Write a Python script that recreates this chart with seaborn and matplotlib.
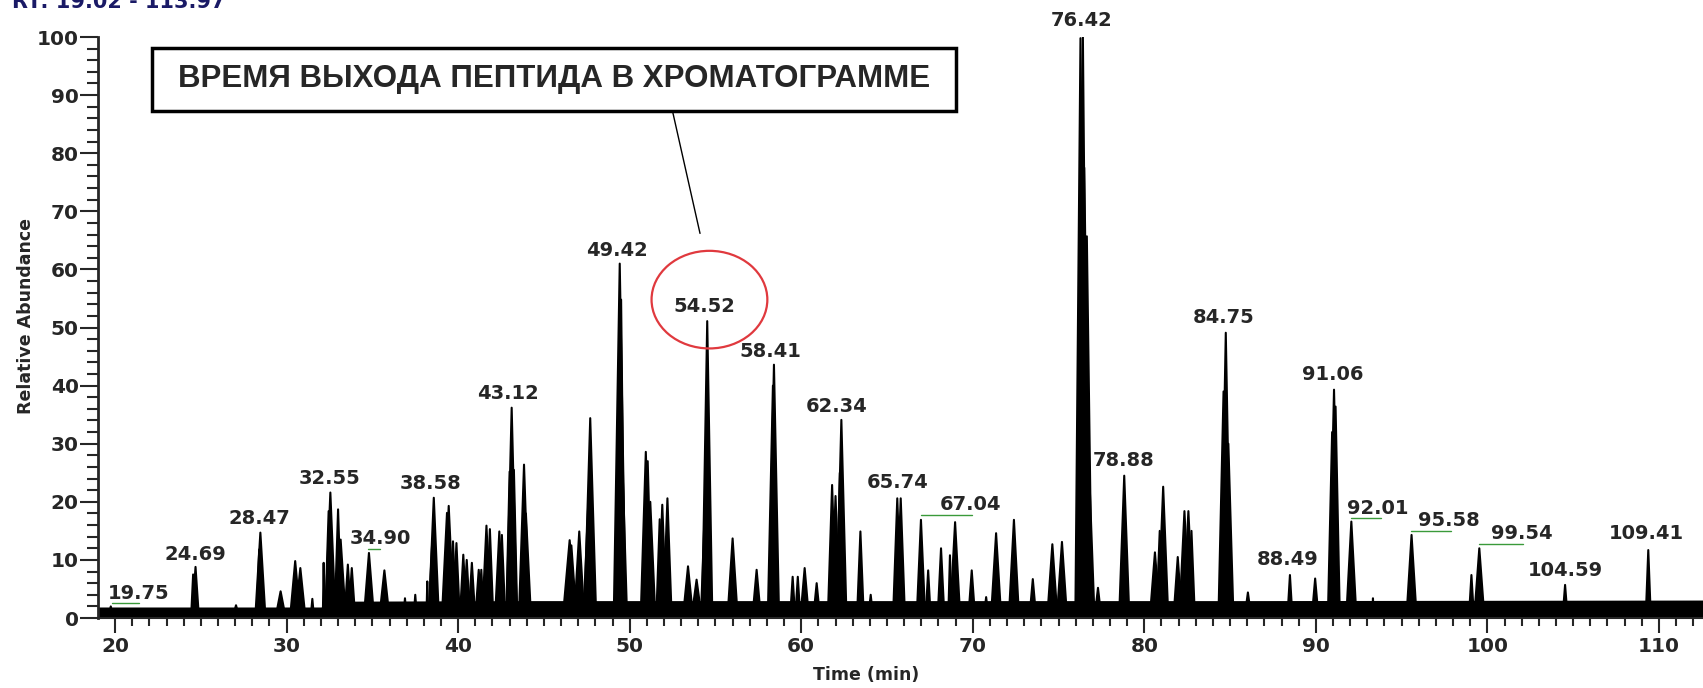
import numpy as np
import pandas as pd
import matplotlib
matplotlib.use("Agg")
import matplotlib.pyplot as plt
from matplotlib.patches import Ellipse, Rectangle
from matplotlib.ticker import MultipleLocator
import seaborn as sns

# peaks: apex time (min), apex height (%), half width at base (min)
peak_rt = [19.75, 24.55, 24.69, 27.05, 28.40, 28.47, 29.65, 30.50, 30.80, 31.50,
           32.16, 32.45, 32.55, 33.00, 33.15, 33.57, 33.80, 34.80, 35.70, 36.90,
           37.50, 38.20, 38.48, 38.58, 39.35, 39.45, 39.70, 39.90, 40.30, 40.50,
           40.80, 41.20, 41.35, 41.65, 41.85, 42.40, 42.55, 43.00, 43.12, 43.25,
           43.84, 43.95, 46.50, 46.60, 47.06, 47.60, 47.70, 49.42, 49.50, 49.55,
           50.94, 51.05, 51.20, 51.75, 51.90, 52.20, 53.40, 53.90, 54.45, 54.52,
           56.00, 57.40, 58.35, 58.41, 59.50, 59.80, 60.20, 60.90, 61.80, 62.00,
           62.25, 62.34, 63.45, 64.05, 65.60, 65.80, 66.98, 67.40, 68.15, 68.67,
           68.97, 69.94, 70.78, 71.36, 72.40, 73.50, 74.64, 75.20, 76.14, 76.28,
           76.42, 76.50, 76.65, 76.80, 77.30, 78.83, 80.62, 80.90, 81.10, 81.95,
           82.34, 82.57, 82.75, 84.62, 84.75, 84.90, 86.04, 88.49, 89.96, 90.95,
           91.06, 91.15, 92.07, 93.33, 95.58, 99.07, 99.53, 104.53, 109.38]
peak_height = [2.0, 7.5, 8.8, 2.2, 11.8, 14.7, 4.6, 9.8, 8.6, 3.3,
               9.5, 18.4, 21.6, 18.7, 13.5, 9.2, 8.6, 11.2, 8.2, 3.4,
               4.0, 6.3, 12.6, 20.7, 18.1, 19.3, 13.2, 12.9, 10.9, 10.0,
               9.5, 8.3, 8.3, 15.9, 15.3, 14.9, 14.3, 25.2, 36.2, 25.5,
               26.4, 18.0, 13.4, 12.5, 14.9, 20.8, 34.4, 61.0, 54.8, 29.0,
               28.6, 27.0, 20.0, 17.0, 19.5, 20.6, 8.9, 6.6, 24.7, 51.1,
               13.7, 8.3, 40.0, 43.6, 7.1, 7.1, 8.6, 6.0, 22.9, 21.0,
               25.0, 34.1, 14.9, 4.0, 20.6, 20.6, 16.9, 8.2, 12.0, 10.8,
               16.5, 8.2, 3.6, 14.6, 16.9, 6.7, 12.7, 13.1, 24.8, 99.8,
               100.0, 77.5, 65.7, 24.0, 5.2, 24.5, 11.3, 15.0, 22.6, 10.5,
               18.4, 18.4, 15.0, 39.0, 49.1, 30.0, 4.4, 7.4, 6.8, 32.0,
               39.3, 36.4, 16.6, 3.4, 14.3, 7.4, 12.0, 5.7, 11.7]
peak_halfwidth = [0.15, 0.12, 0.20, 0.20, 0.15, 0.30, 0.30, 0.30, 0.30, 0.10,
                  0.05, 0.20, 0.30, 0.20, 0.30, 0.20, 0.20, 0.30, 0.30, 0.10,
                  0.10, 0.05, 0.20, 0.30, 0.30, 0.30, 0.20, 0.20, 0.20, 0.20,
                  0.20, 0.20, 0.15, 0.25, 0.20, 0.25, 0.20, 0.20, 0.30, 0.20,
                  0.30, 0.30, 0.40, 0.30, 0.30, 0.30, 0.35, 0.35, 0.20, 0.30,
                  0.30, 0.25, 0.30, 0.20, 0.25, 0.25, 0.30, 0.30, 0.30, 0.30,
                  0.30, 0.25, 0.30, 0.30, 0.15, 0.15, 0.25, 0.20, 0.25, 0.25,
                  0.20, 0.30, 0.20, 0.15, 0.25, 0.25, 0.25, 0.15, 0.20, 0.10,
                  0.30, 0.20, 0.15, 0.30, 0.30, 0.20, 0.30, 0.30, 0.10, 0.30,
                  0.30, 0.35, 0.30, 0.30, 0.20, 0.30, 0.30, 0.20, 0.30, 0.25,
                  0.30, 0.30, 0.20, 0.30, 0.30, 0.30, 0.20, 0.15, 0.20, 0.25,
                  0.30, 0.25, 0.30, 0.05, 0.30, 0.15, 0.30, 0.15, 0.15]

# noise floor of the trace
baseline_rt = [19.02, 32.0, 33.0, 44.0, 46.0, 86.0, 113.97]
baseline_level = [1.9, 1.9, 2.9, 3.0, 3.0, 3.0, 3.1]

# peak labels
label_text = ['19.75', '24.69', '28.47', '32.55', '34.90', '38.58', '43.12', '49.42',
              '54.52', '58.41', '62.34', '65.74', '67.04', '76.42', '78.88', '84.75',
              '88.49', '91.06', '92.01', '95.58', '99.54', '104.59', '109.41']
label_x = [21.4, 24.66, 28.4, 32.49, 35.44, 38.42, 42.92, 49.23,
           54.38, 58.2, 62.09, 65.61, 69.86, 76.34, 78.77, 84.62,
           88.35, 90.97, 93.59, 97.75, 101.98, 104.57, 109.28]
label_y = [4.3, 11.0, 17.2, 24.1, 13.7, 23.2, 38.7, 63.2,
           53.7, 45.9, 36.4, 23.3, 19.5, 102.9, 27.1, 51.7,
           10.0, 41.9, 18.9, 16.8, 14.6, 8.2, 14.6]

# green marks under some labels
mark_x0 = [19.8, 34.77, 67.0, 92.07, 95.52, 99.5]
mark_x1 = [21.4, 35.44, 69.94, 93.78, 97.9, 102.05]
mark_y = [2.6, 11.8, 17.7, 17.2, 14.9, 12.8]

sns.set_style("ticks")
plt.rcParams['font.family'] = ['Liberation Sans', 'DejaVu Sans']
num_font = ['DejaVu Sans']

fig = plt.figure(figsize=(17.03, 6.88), dpi=100)
ax = fig.add_axes([0.0577, 0.1017, 0.9564, 0.8445])

# baseline band
ax.fill_between(baseline_rt, 0, baseline_level, color='black', lw=0)

# peaks as thin filled spikes
rows = []
for i, (rt, h, w) in enumerate(zip(peak_rt, peak_height, peak_halfwidth)):
    rows += [(i, rt - w, 0.0), (i, rt, h), (i, rt + w, 0.0)]
df = pd.DataFrame(rows, columns=['peak', 'rt', 'abundance'])
for _, g in df.groupby('peak'):
    ax.fill(g['rt'], g['abundance'], color='black', lw=0)
sns.lineplot(data=df, x='rt', y='abundance', units='peak', estimator=None,
             sort=False, color='black', lw=1.5, ax=ax)

for x0, x1, y in zip(mark_x0, mark_x1, mark_y):
    ax.plot([x0, x1], [y, y], color='#3a9a3a', lw=1.0)

for t, x, y in zip(label_text, label_x, label_y):
    ax.text(x, y, t, ha='center', va='center', fontsize=14, fontweight='bold',
            family=num_font, clip_on=False)

# callout
ax.add_patch(Rectangle((22.16, 87.2), 69.0 - 22.16, 98.1 - 87.2, facecolor='white',
                       edgecolor='black', lw=2.5, zorder=5))
ax.text(45.58, 92.7, 'ВРЕМЯ ВЫХОДА ПЕПТИДА В ХРОМАТОГРАММЕ', ha='center', va='center',
        fontsize=22.5, fontweight='bold', zorder=6)
ax.plot([52.5, 54.1], [87.2, 66.2], color='black', lw=1.0, zorder=5)
ax.add_patch(Ellipse((54.65, 54.8), 6.75, 16.8, fill=False, ec='#e0393e', lw=1.6, zorder=5))

ax.set_xlim(19.02, 113.97)
ax.set_ylim(0, 100)
ax.xaxis.set_major_locator(MultipleLocator(10))
ax.xaxis.set_minor_locator(MultipleLocator(1))
ax.yaxis.set_major_locator(MultipleLocator(10))
ax.yaxis.set_minor_locator(MultipleLocator(2))
ax.tick_params(axis='both', which='major', direction='out', width=1.5, labelsize=14.5)
ax.tick_params(axis='y', which='major', length=13, pad=1)
ax.tick_params(axis='y', which='minor', length=8, width=1.5)
ax.tick_params(axis='x', which='major', length=11, pad=3)
ax.tick_params(axis='x', which='minor', length=6, width=1.5)
for lab in ax.get_xticklabels() + ax.get_yticklabels():
    lab.set_fontweight('bold')
    lab.set_family(num_font)
ax.spines['left'].set_linewidth(2)
ax.spines['bottom'].set_linewidth(1.5)
sns.despine(ax=ax)

ax.set_xlabel('')
ax.set_ylabel('Relative Abundance', fontsize=12.5, fontweight='bold', family=num_font)
ax.yaxis.set_label_coords(-0.039, 0.52)
fig.text(866 / 1703, 1 - 675 / 688, 'Time (min)', ha='center', va='center',
         fontsize=12.5, fontweight='bold', family=num_font)
fig.text(0.007, 0.988, 'RT: 19.02 - 113.97', color='#1a1a66', fontsize=15,
         fontweight='bold', va='baseline', family=num_font)

fig.savefig('out.png', dpi=100)
